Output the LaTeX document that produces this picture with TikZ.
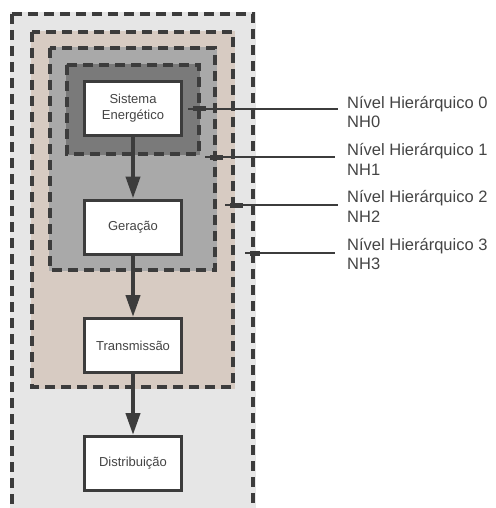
\documentclass[tikz,border=0pt]{standalone}
\usepackage{fontspec}
\setmainfont{Liberation Sans}
\usetikzlibrary{arrows.meta}
\definecolor{dk}{HTML}{3C3C3C}
\definecolor{nhthree}{HTML}{E6E6E6}
\definecolor{nhtwo}{HTML}{D7CBC2}
\definecolor{nhone}{HTML}{A9A9A9}
\definecolor{nhzero}{HTML}{7A7A7A}
\definecolor{txt}{HTML}{444444}
\begin{document}
\begin{tikzpicture}[x={(1pt,0)},y={(0,-1pt)},
  level/.style={draw=dk,line width=3.6pt,dash pattern=on 10pt off 6pt},
  blockbox/.style={draw=dk,fill=white,line width=3pt,minimum width=97pt,minimum height=54pt,inner sep=0pt,align=center,text=txt,font=\fontsize{13}{16}\selectfont},
  flow/.style={draw=dk,line width=4pt,-{Triangle[length=22pt,width=14pt]}},
  tag/.style={draw=dk,line width=2pt},
  taglabel/.style={anchor=west,align=left,text=txt,inner sep=0pt,font=\fontsize{16.5}{19.5}\selectfont}]
\useasboundingbox (0,0) rectangle (495,508);
% fills
\fill[nhthree] (10,12) rectangle (256,508);
\fill[nhtwo] (31,31) rectangle (235,389);
\fill[nhone] (49,47) rectangle (217,271);
\fill[nhzero] (66,64) rectangle (200,155);
% dashed level frames
\draw[level] (12,14) -- (253,14) -- (253,508);
\draw[level] (12,14) -- (12,508);
\draw[level] (32,32) rectangle (233,387);
\draw[level] (50,48) rectangle (215,270);
\draw[level] (67,65) rectangle (199,154);
% blocks
\node[blockbox] (se) at (133,108.5) {Sistema\\Energético};
\node[blockbox] (ge) at (133,227) {Geração};
\node[blockbox] (tr) at (133,345.5) {Transmissão};
\node[blockbox] (di) at (133,463.5) {Distribuição};
\draw[flow] (se.south) -- (ge.north);
\draw[flow] (ge.south) -- (tr.north);
\draw[flow] (tr.south) -- (di.north);
% labels
\node[taglabel] (l0) at (347,112) {Nível Hierárquico 0\\NH0};
\node[taglabel] (l1) at (347,159.5) {Nível Hierárquico 1\\NH1};
\node[taglabel] (l2) at (347,206.5) {Nível Hierárquico 2\\NH2};
\node[taglabel] (l3) at (347,254) {Nível Hierárquico 3\\NH3};
\coordinate (e0) at (188,109);
\coordinate (e1) at (205,157);
\coordinate (e2) at (225,205);
\coordinate (e3) at (245,253);
\draw[tag] (e0) -- ++(150,0);
\draw[tag] (e1) -- ++(130,0);
\draw[tag] (e2) -- ++(113,0);
\draw[tag] (e3) -- ++(90,0);
\fill[dk] (193,106.5) rectangle (206,111.5);
\fill[dk] (210,154.5) rectangle (223,159.5);
\fill[dk] (230,202.5) rectangle (243,207.5);
\fill[dk] (250,250.5) rectangle (260,255.5);
\end{tikzpicture}
\end{document}
